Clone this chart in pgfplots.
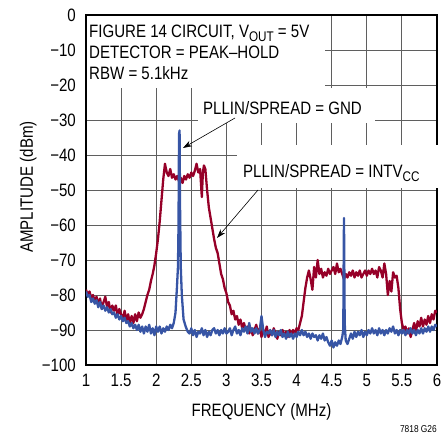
\documentclass[border=0pt]{standalone}
\usepackage{fontspec}
\setmainfont{Liberation Sans}[FakeStretch=0.84]
\usepackage{pgfplots}
\pgfplotsset{compat=1.18}
\usepackage{pgfplotstable}
\usetikzlibrary{arrows.meta}
\definecolor{tracered}{RGB}{150,0,40}
\definecolor{traceblue}{RGB}{55,85,165}
\definecolor{gridgray}{RGB}{95,95,95}
\newcommand{\sub}[1]{\raisebox{-3.5bp}{\fontsize{14}{14}\selectfont #1}}

\pgfplotstableread{
x y
1.000 -78.5
1.025 -80
1.050 -79
1.075 -81
1.100 -80
1.125 -82
1.150 -80.5
1.175 -83
1.200 -81
1.225 -84
1.250 -82
1.275 -80.5
1.300 -83.5
1.325 -82
1.350 -85
1.375 -83
1.400 -84.5
1.425 -83
1.450 -86
1.475 -84
1.500 -85.5
1.525 -87
1.550 -84.5
1.575 -87.5
1.600 -85.5
1.625 -88
1.650 -86
1.675 -88
1.700 -85.5
1.725 -87.5
1.750 -85
1.775 -86.5
1.800 -85.5
1.825 -84
1.850 -82
1.875 -80
1.900 -78.5
1.925 -76
1.950 -74
1.975 -71.5
2.000 -68
2.025 -64
2.050 -59
2.075 -53
2.100 -47
2.125 -42.5
2.150 -45
2.175 -46
2.200 -44
2.225 -46.5
2.250 -45.5
2.275 -47
2.300 -46
2.325 -47.5
2.350 -46.5
2.375 -48
2.400 -46
2.425 -47
2.450 -45.5
2.475 -46.5
2.500 -45
2.525 -46
2.550 -44.5
2.575 -42.5
2.600 -45
2.625 -44
2.650 -52
2.665 -45
2.680 -43
2.700 -44
2.725 -50
2.750 -55
2.775 -58
2.800 -61
2.825 -64
2.850 -66.5
2.875 -68
2.900 -71
2.925 -74
2.950 -75.5
2.975 -78
3.000 -79.5
3.025 -82
3.050 -83
3.075 -85.5
3.100 -84.5
3.125 -87
3.150 -86
3.175 -88.5
3.200 -87
3.225 -89.5
3.250 -88
3.275 -90
3.300 -89
3.325 -91
3.350 -89.5
3.375 -91.5
3.400 -90
3.425 -88.5
3.450 -91
3.475 -89.5
3.500 -92
3.525 -90
3.550 -91
3.575 -89
3.600 -92
3.625 -90.5
3.650 -91.5
3.675 -89.5
3.700 -91
3.725 -92.5
3.750 -90.5
3.775 -91.5
3.800 -90
3.825 -91.5
3.850 -90.5
3.875 -92
3.900 -90
3.925 -91.5
3.950 -90
3.975 -91
4.000 -89.5
4.025 -90
4.050 -88
4.075 -86
4.100 -82
4.125 -78
4.150 -75
4.175 -73
4.200 -75.5
4.225 -78.5
4.250 -72
4.275 -75
4.300 -70
4.325 -74
4.350 -72.5
4.375 -75
4.400 -73.5
4.425 -74.5
4.450 -72.5
4.475 -74
4.500 -73
4.525 -72
4.550 -74
4.575 -71
4.600 -73.5
4.625 -72.5
4.650 -74
4.675 -75.5
4.700 -74
4.725 -75
4.750 -73.5
4.775 -74.5
4.800 -73
4.825 -75
4.850 -73.5
4.875 -74.5
4.900 -73
4.925 -75
4.950 -74
4.975 -73
5.000 -74.5
5.025 -73
5.050 -74
5.075 -72.5
5.100 -74
5.125 -73
5.150 -75
5.175 -72
5.200 -73
5.225 -75
5.250 -71
5.275 -74
5.300 -80
5.325 -76
5.350 -79
5.375 -73.5
5.400 -75
5.425 -74.5
5.450 -78
5.475 -84
5.500 -88
5.525 -90
5.550 -89
5.575 -91
5.600 -89.5
5.625 -92
5.650 -90
5.675 -88
5.700 -90.5
5.725 -87.5
5.750 -89
5.775 -86.5
5.800 -89
5.825 -87
5.850 -88.5
5.875 -86
5.900 -88
5.925 -85.5
5.950 -87
5.975 -84.5
6.000 -85
}\redtable

\pgfplotstableread{
x y
1.000 -79
1.025 -80.5
1.050 -80
1.075 -82
1.100 -81
1.125 -82.5
1.150 -81.5
1.175 -83.5
1.200 -82
1.225 -84
1.250 -83
1.275 -84.5
1.300 -83.5
1.325 -85
1.350 -84
1.375 -85.5
1.400 -85
1.425 -86.5
1.450 -85.5
1.475 -87
1.500 -86
1.525 -87.5
1.550 -86.5
1.575 -88
1.600 -87.5
1.625 -89
1.650 -88
1.675 -89.5
1.700 -88.5
1.725 -90
1.750 -88.5
1.775 -90.5
1.800 -89
1.825 -91
1.850 -89
1.875 -90.5
1.900 -88.5
1.925 -91
1.950 -89.5
1.975 -91.5
2.000 -89
2.025 -90.5
2.050 -89
2.075 -91
2.100 -89.5
2.125 -90.5
2.150 -89
2.175 -90
2.200 -88.5
2.225 -89.5
2.250 -88
2.275 -85
2.295 -78
2.310 -72
2.318 -60
2.325 -34
2.333 -33
2.340 -55
2.350 -72
2.365 -80
2.390 -87
2.420 -89
2.450 -90.5
2.475 -91
2.500 -89.5
2.525 -91.5
2.550 -90
2.575 -92
2.600 -90.5
2.625 -91
2.650 -89.5
2.675 -91.5
2.700 -90
2.725 -92
2.750 -90.5
2.775 -91.5
2.800 -90
2.825 -89.5
2.850 -91
2.875 -90
2.900 -91.5
2.925 -90
2.950 -91
2.975 -89.5
3.000 -91
3.025 -90.5
3.050 -89.5
3.075 -91.5
3.100 -90
3.125 -89
3.150 -91
3.175 -90
3.200 -91.5
3.225 -89.5
3.250 -90.5
3.275 -89
3.300 -91
3.325 -88
3.350 -90.5
3.375 -89.5
3.400 -91
3.425 -89.5
3.450 -91
3.475 -90
3.500 -86
3.525 -90
3.550 -92
3.575 -90.5
3.600 -91
3.625 -90
3.650 -91.5
3.675 -90
3.700 -92
3.725 -90.5
3.750 -91.5
3.775 -90
3.800 -92
3.825 -91
3.850 -92.5
3.875 -90.5
3.900 -92
3.925 -91
3.950 -92.5
3.975 -91
4.000 -92
4.025 -90.5
4.050 -91.5
4.075 -90
4.100 -91.5
4.125 -90.5
4.150 -92
4.175 -91
4.200 -92.5
4.225 -91
4.250 -92
4.275 -91.5
4.300 -93
4.325 -91.5
4.350 -92.5
4.375 -91
4.400 -93
4.425 -92
4.450 -93.5
4.475 -94.5
4.500 -93
4.525 -95
4.550 -93.5
4.575 -94.5
4.600 -93
4.625 -94
4.650 -92
4.665 -90
4.670 -72
4.675 -58
4.680 -72
4.685 -88
4.700 -93
4.725 -94
4.750 -92.5
4.775 -91
4.800 -92.5
4.825 -90.5
4.850 -92
4.875 -90.5
4.900 -91.5
4.925 -90
4.950 -92
4.975 -90.5
5.000 -91.5
5.025 -90
5.050 -91
5.075 -89.5
5.100 -91
5.125 -90
5.150 -91.5
5.175 -89.5
5.200 -91
5.225 -90
5.250 -91.5
5.275 -90
5.300 -91
5.325 -89.5
5.350 -90.5
5.375 -89
5.400 -91
5.425 -90
5.450 -91.5
5.475 -90
5.500 -91
5.525 -90
5.550 -91.5
5.575 -90
5.600 -91
5.625 -89.5
5.650 -91
5.675 -90
5.700 -91.5
5.725 -90
5.750 -91
5.775 -89.5
5.800 -91
5.825 -89.5
5.850 -90.5
5.875 -89
5.900 -90.5
5.925 -89
5.950 -90
5.975 -88.5
6.000 -89
}\bluetable

\begin{document}
\fontsize{18}{21}\selectfont
\begin{tikzpicture}[font=\fontsize{18}{21}\selectfont]
\useasboundingbox (-86bp,-69bp) rectangle (356bp,365bp);
\begin{axis}[
  at={(0,0)}, anchor=south west,
  scale only axis, width=351bp, height=350bp,
  xmin=1, xmax=6, ymin=-100, ymax=0,
  xtick={1,1.5,2,2.5,3,3.5,4,4.5,5,5.5,6},
  xticklabels={1,1.5,2,2.5,3,3.5,4,4.5,5,5.5,6},
  ytick={-100,-90,-80,-70,-60,-50,-40,-30,-20,-10,0},
  yticklabels={−100,−90,−80,−70,−60,−50,−40,−30,−20,−10,0},
  grid=major,
  major grid style={gridgray, line width=0.9bp},
  axis line style={black, line width=1.8bp},
  tick style={draw=none},
  xticklabel style={yshift=-3bp},
  yticklabel style={xshift=-4bp},
  clip=true,
]
\addplot[tracered, line width=2.3bp, line join=round] table[x=x,y=y] {\redtable};
\addplot[traceblue, line width=2.3bp, line join=round] table[x=x,y=y] {\bluetable};
\end{axis}
% white label boxes
\fill[white] (1bp,277bp) rectangle (239bp,349bp);
\fill[white] (112bp,241.5bp) rectangle (289bp,277bp);
\fill[white] (151bp,177bp) rectangle (355bp,220bp);
\node[anchor=base west, inner sep=0] at (3bp,327bp) {FIGURE 14 CIRCUIT, V\sub{OUT} = 5V};
\node[anchor=base west, inner sep=0] at (3bp,306bp) {DETECTOR = PEAK–HOLD};
\node[anchor=base west, inner sep=0] at (3bp,285bp) {RBW = 5.1kHz};
\node[anchor=base west, inner sep=0] at (117bp,250bp) {PLLIN/SPREAD = GND};
\node[anchor=base west, inner sep=0] at (157bp,187bp) {PLLIN/SPREAD = INTV\sub{CC}};
\draw[line width=0.6bp, -{Stealth[length=9bp,width=6bp]}] (149bp,247bp) -- (97bp,217bp);
\draw[line width=0.6bp, -{Stealth[length=9bp,width=6bp]}] (172bp,175bp) -- (131bp,127bp);
\node[rotate=90, anchor=base, inner sep=0] at (-53bp,178bp) {AMPLITUDE (dBm)};
\node[anchor=base, inner sep=0] at (175.5bp,-51bp) {FREQUENCY (MHz)};
\node[anchor=base east, inner sep=0, font=\fontsize{10}{12}\selectfont] at (351bp,-67bp) {7818 G26};
\end{tikzpicture}
\end{document}
